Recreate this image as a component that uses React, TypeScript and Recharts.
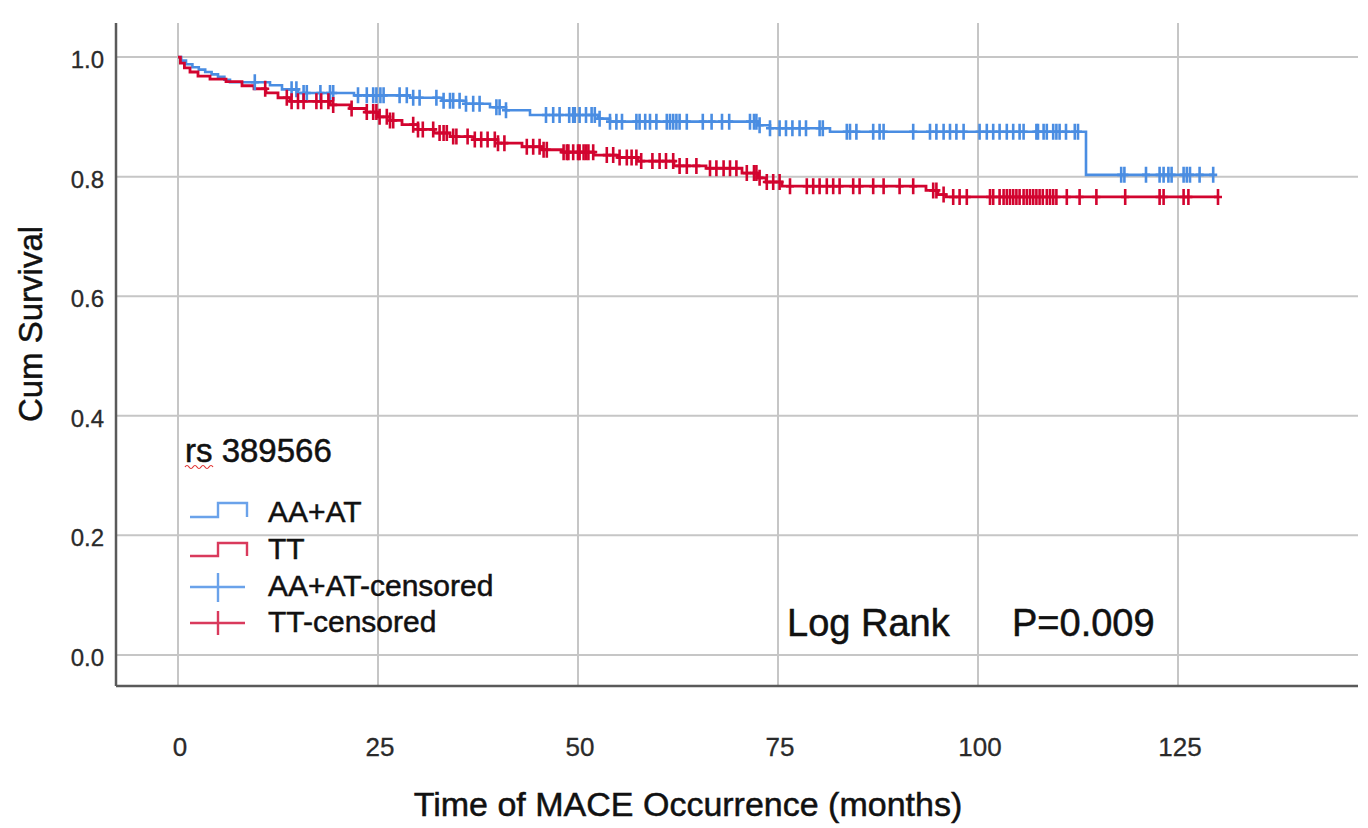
import React from 'react';
import { ComposedChart, Line, Scatter, XAxis, YAxis, CartesianGrid, Customized } from 'recharts';

// Kaplan-Meier step points: AA+AT
const blueTimes = [0, 0.4, 1, 1.8, 2.6, 3.4, 4.2, 5, 5.8, 6.5, 11.5, 13, 15, 22, 29, 33, 36, 39, 41, 44, 52.5, 54, 72.5, 74, 81.5, 113.5, 129.5];
const blueSurv = [1, 0.994, 0.988, 0.983, 0.979, 0.975, 0.971, 0.967, 0.962, 0.958, 0.953, 0.946, 0.94, 0.936, 0.932, 0.927, 0.922, 0.916, 0.911, 0.903, 0.897, 0.892, 0.886, 0.881, 0.875, 0.803, 0.803];

// Kaplan-Meier step points: TT
const redTimes = [0, 0.3, 0.8, 1.5, 2.5, 4, 6, 8, 9.5, 11, 12.5, 14, 19, 21.5, 23.5, 25, 26.5, 28, 30, 32, 34, 37, 40, 43, 45.5, 48, 52, 55, 57.5, 62, 66, 70.5, 72.5, 73.5, 75.5, 93.5, 95, 96, 130];
const redSurv = [1, 0.99, 0.982, 0.975, 0.968, 0.963, 0.959, 0.952, 0.947, 0.94, 0.932, 0.926, 0.92, 0.914, 0.908, 0.9, 0.894, 0.887, 0.879, 0.873, 0.867, 0.862, 0.856, 0.85, 0.845, 0.841, 0.836, 0.832, 0.826, 0.818, 0.814, 0.806, 0.798, 0.791, 0.784, 0.777, 0.77, 0.766, 0.766];

// Censoring times
const blueCensor = [9.6, 14.2, 14.8, 15.7, 16.1, 17.8, 19, 19.4, 22.5, 23.6, 24.4, 24.8, 25.3, 25.7, 27.7, 28.6, 29.4, 30.2, 32.3, 33.2, 34, 34.4, 35.2, 36, 36.9, 37.7, 39.8, 40.2, 41, 46, 46.9, 47.7, 48.9, 49.4, 49.6, 50.2, 51, 51.7, 52.1, 52.7, 54, 54.8, 55.5, 57.3, 57.7, 58.4, 59, 59.8, 61.1, 61.5, 61.9, 62.3, 62.7, 63.6, 65.6, 66.7, 68, 68.9, 71.5, 72, 72.3, 72.7, 74, 75.2, 76, 76.8, 77.7, 78.5, 80.2, 80.6, 83.6, 84, 84.8, 86.9, 87.7, 88.2, 91.9, 94, 94.8, 95.7, 96.5, 97.3, 98.2, 100.2, 101.1, 101.9, 102.7, 103.6, 104.4, 105.2, 105.7, 107.3, 107.5, 108.2, 108.6, 109.4, 109.8, 110.2, 111, 112.1, 112.5, 117.9, 118.3, 121, 122.7, 123.2, 123.8, 124.2, 125.7, 126.1, 126.5, 127.7, 129.4];
const redCensor = [10.9, 13.6, 14.2, 15, 15.7, 17.3, 17.9, 18.8, 19.4, 21.7, 23.6, 24.4, 24.8, 25.2, 26.1, 26.5, 26.9, 29.4, 30, 30.6, 31.9, 32.7, 33.2, 33.6, 34.4, 34.8, 36.2, 37.1, 37.9, 38.7, 39.6, 40, 40.8, 43.6, 44.4, 45.2, 45.7, 46.1, 48.2, 48.6, 48.8, 49.4, 50, 50.2, 50.7, 51, 51.3, 51.9, 53.6, 54.4, 55.2, 56.1, 56.7, 57.3, 57.9, 59.3, 60.2, 61, 61.9, 62.7, 63.6, 64.8, 66.5, 67.3, 68.2, 69, 69.8, 71.1, 72, 72.3, 72.7, 73.6, 74.4, 75.2, 76.5, 78.6, 79.4, 80.2, 81.1, 81.9, 82.7, 84.4, 85.2, 86.9, 88.2, 90.2, 91.9, 94.4, 94.8, 95.7, 96.9, 97.7, 98.6, 101.5, 101.9, 102.7, 103.2, 103.6, 104, 104.4, 104.8, 105.2, 105.7, 106.1, 106.5, 106.9, 107.3, 107.7, 108.1, 108.6, 109, 109.4, 109.8, 111.1, 112.7, 114.8, 118.4, 122.7, 123.2, 125.7, 126.3, 130];

const xTicks = [0, 25, 50, 75, 100, 125];
const yTicks = [0, 0.2, 0.4, 0.6, 0.8, 1.0];

const BLUE = '#4a8de2';
const RED = '#d2042f';
const FONT = '"Liberation Sans", Arial, sans-serif';

const toSeries = (ts: number[], ss: number[]) => ts.map((t, i) => ({ t, s: ss[i] }));
const lookup = (ts: number[], ss: number[], t: number) => {
  let v = ss[0];
  for (let i = 0; i < ts.length; i++) if (ts[i] <= t) v = ss[i];
  return v;
};
const blueData = toSeries(blueTimes, blueSurv);
const redData = toSeries(redTimes, redSurv);
const blueCens = blueCensor.map((t) => ({ t, s: lookup(blueTimes, blueSurv, t) }));
const redCens = redCensor.map((t) => ({ t, s: lookup(redTimes, redSurv, t) }));

const plus = (color: string) => (p: any) => (
  <path d={`M${p.cx},${p.cy - 8}V${p.cy + 8}M${p.cx - 4},${p.cy}H${p.cx + 4}`} stroke={color} strokeWidth={2.6} fill="none" />
);

const XTick = (p: any) => (
  <text x={p.x + 2} y={p.y + 70} textAnchor="middle" fontSize={26} fill="#2a2a2a" stroke="#2a2a2a" strokeWidth={0.3} fontFamily={FONT}>
    {p.payload.value}
  </text>
);
const YTick = (p: any) => (
  <text x={p.x - 12} y={p.y + 11} textAnchor="end" fontSize={24} fill="#2a2a2a" stroke="#2a2a2a" strokeWidth={0.3} fontFamily={FONT}>
    {Number(p.payload.value).toFixed(1)}
  </text>
);

const Overlay = () => (
  <g fontFamily={FONT} fill="#111" stroke="#111" strokeWidth={0.5}>
    <text x={34} y={316} fontSize={33} textAnchor="middle" transform="rotate(-90, 34, 316)">Cum Survival</text>
    <text x={680} y={808} fontSize={34} textAnchor="middle">Time of MACE Occurrence (months)</text>
    <text x={177} y={454} fontSize={33}>rs 389566</text>
    <text x={260} y={514} fontSize={30}>AA+AT</text>
    <text x={260} y={551} fontSize={30}>TT</text>
    <text x={260} y={588} fontSize={30}>AA+AT-censored</text>
    <text x={260} y={624} fontSize={30}>TT-censored</text>
    <text x={779} y={628} fontSize={38}>Log Rank</text>
    <text x={1004} y={628} fontSize={38}>P=0.009</text>
    <path d="M177,459 q2,-3 4,0 t4,0 t4,0 t4,0 t4,0 t4,0 t4,0" stroke="#e03030" strokeWidth={1.2} fill="none" />
    <path d="M182,509H210V495H239V509" stroke="#6aa2ea" strokeWidth={2.4} fill="none" />
    <path d="M182,548H210V535H239V548" stroke="#d93a5c" strokeWidth={2.4} fill="none" />
    <path d="M182,579H237M210,565V594" stroke="#6aa2ea" strokeWidth={2.4} fill="none" />
    <path d="M182,615H237M210,603V627" stroke="#d93a5c" strokeWidth={2.4} fill="none" />
  </g>
);

export default function App() {
  return (
    <ComposedChart width={1360} height={818} margin={{ top: 15, right: 10, left: 8, bottom: 60 }}>
      <CartesianGrid stroke="#c6c6c6" strokeWidth={2} horizontalValues={yTicks} verticalValues={xTicks} />
      <XAxis
        type="number"
        dataKey="t"
        domain={[-7.75, 147.5]}
        ticks={xTicks}
        allowDataOverflow
        height={80}
        tickLine={false}
        tickSize={0}
        tickMargin={0}
        axisLine={{ stroke: '#5a5a5a', strokeWidth: 2.5 }}
        tick={<XTick />}
      />
      <YAxis
        type="number"
        dataKey="s"
        domain={[-0.052, 1.057]}
        ticks={yTicks}
        allowDataOverflow
        width={100}
        tickLine={false}
        tickSize={0}
        tickMargin={0}
        axisLine={{ stroke: '#5a5a5a', strokeWidth: 2.5 }}
        tick={<YTick />}
      />
      <Line data={blueData} dataKey="s" type="stepAfter" stroke={BLUE} strokeWidth={2.6} dot={false} isAnimationActive={false} />
      <Line data={redData} dataKey="s" type="stepAfter" stroke={RED} strokeWidth={2.8} dot={false} isAnimationActive={false} />
      <Scatter data={blueCens} dataKey="s" shape={plus(BLUE)} isAnimationActive={false} />
      <Scatter data={redCens} dataKey="s" shape={plus(RED)} isAnimationActive={false} />
      <Customized component={Overlay} />
    </ComposedChart>
  );
}
